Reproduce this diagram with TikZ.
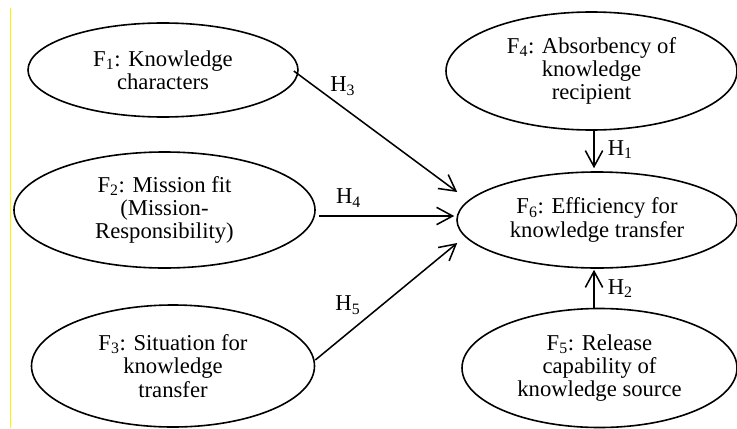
\documentclass[tikz,border=0pt]{standalone}
\usepackage{fontspec}
\setmainfont{Liberation Serif}
\usetikzlibrary{shapes.geometric,arrows.meta}

\begin{document}
\begin{tikzpicture}[x=0.75pt,y=-0.75pt,
    factor/.style={draw, ellipse, line width=1.2pt, inner sep=0pt, align=center, font=\fontsize{17}{17.5}\selectfont},
    hyp/.style={-{Straight Barb[length=12pt,width=13pt]}, line width=1.15pt},
    hlabel/.style={inner sep=0pt, font=\fontsize{17}{17.5}\selectfont}]
    \useasboundingbox (0,0) rectangle (737,428);
    \draw [yellow, line width=1.1pt] (10.5,8) -- (10.5,428);
    % factors
    \node [factor, minimum width=202.5pt, minimum height=70.5pt] (f1) at (163,70) {F\textsubscript{1}: Knowledge\\characters};
    \node [factor, minimum width=225.75pt, minimum height=87pt] (f2) at (164.5,210) {F\textsubscript{2}: Mission fit\\(Mission-\\Responsibility)};
    \node [factor, minimum width=212.25pt, minimum height=91.5pt] (f3) at (173,366) {F\textsubscript{3}: Situation for\\knowledge\\transfer};
    \node [factor, minimum width=218.25pt, minimum height=88.5pt] (f4) at (591.5,71) {F\textsubscript{4}: Absorbency of\\knowledge\\recipient};
    \node [factor, minimum width=210pt, minimum height=72pt] (f6) at (597,220) {F\textsubscript{6}: Efficiency for\\knowledge transfer};
    \node [factor, minimum width=206.25pt, minimum height=89.25pt] (f5) at (599.5,368) {F\textsubscript{5}: Release\\capability of\\knowledge source};
    % hypotheses
    \draw [hyp] ([shift={(-5,1)}]f1.east) -- ([shift={(1,-28)}]f6.west) node [hlabel, pos=0.3, yshift=16pt] {H\textsubscript{3}};
    \draw [hyp] ([shift={(3,6)}]f2.east) -- ([shift={(-2,-4)}]f6.west) node [hlabel, pos=0.22, yshift=13.5pt] {H\textsubscript{4}};
    \draw [hyp] ([shift={(0,-6)}]f3.east) -- ([shift={(1,23)}]f6.west) node [hlabel, pos=0.23, yshift=21pt] {H\textsubscript{5}};
    \draw [hyp] ([shift={(2.5,0)}]f4.south) -- ([shift={(-3,-3)}]f6.north) node [hlabel, midway, anchor=west, xshift=9.75pt] {H\textsubscript{1}};
    \draw [hyp] ([shift={(-5.5,0)}]f5.north) -- ([shift={(-3,1)}]f6.south) node [hlabel, midway, anchor=west, xshift=9.75pt] {H\textsubscript{2}};
\end{tikzpicture}
\end{document}
